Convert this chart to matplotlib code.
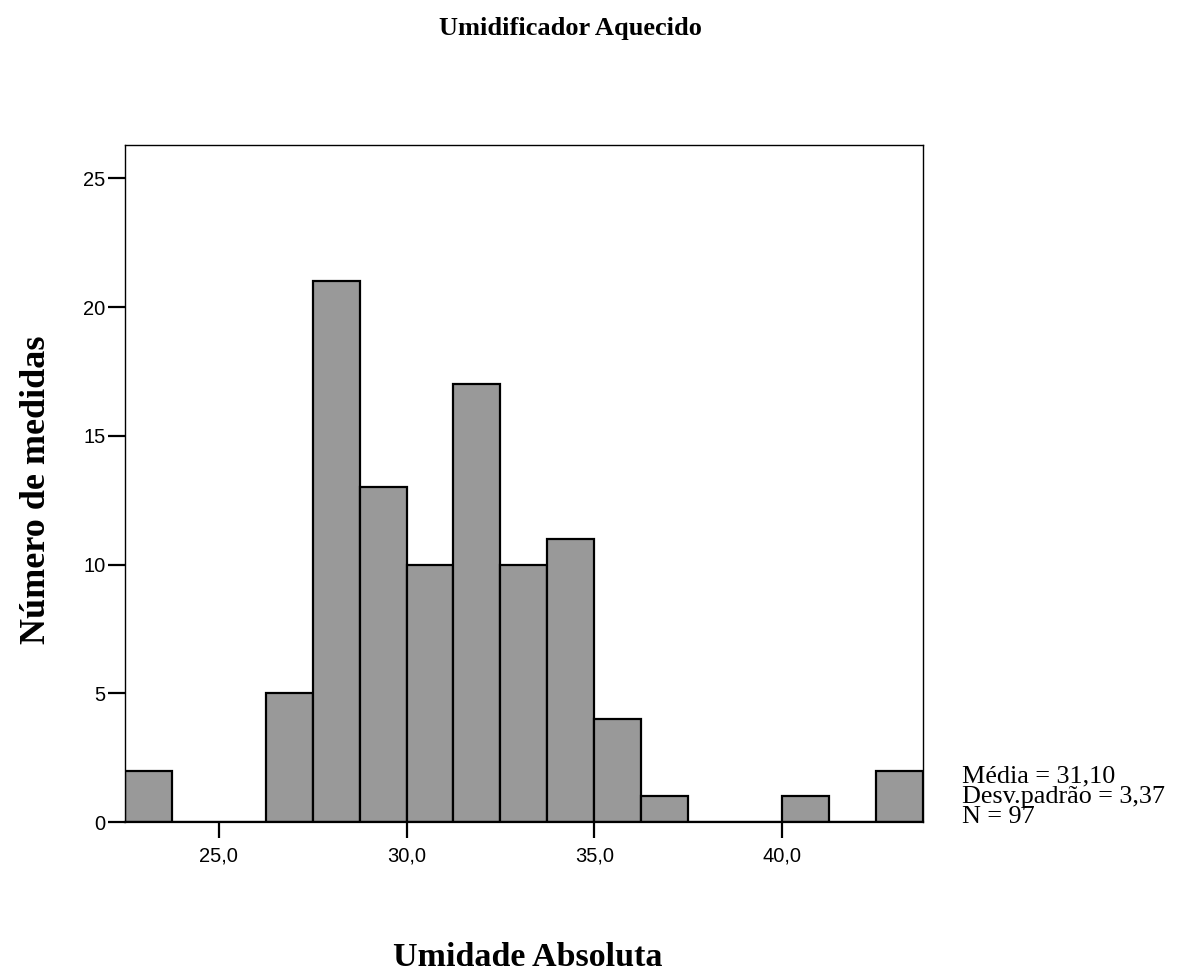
import numpy as np
import matplotlib
matplotlib.use('Agg')
import matplotlib.pyplot as plt

# histogram data (Umidade Absoluta, umidificador aquecido)
bin_edges = [22.5, 23.75, 25.0, 26.25, 27.5, 28.75, 30.0, 31.25, 32.5, 33.75,
             35.0, 36.25, 37.5, 38.75, 40.0, 41.25, 42.5, 43.75]
counts = [2, 0, 0, 5, 21, 13, 10, 17, 10, 11, 4, 1, 0, 0, 1, 0, 2]
x_ticks = [25.0, 30.0, 35.0, 40.0]
x_tick_labels = ['25,0', '30,0', '35,0', '40,0']
y_ticks = [0, 5, 10, 15, 20, 25]
stats_lines = ['Média = 31,10', 'Desv.padrão = 3,37', 'N = 97']

serif = 'Liberation Serif'
sans = 'Liberation Sans'

fig = plt.figure(figsize=(11.84, 9.77), dpi=100)
ax = fig.add_axes([0.1056, 0.1586, 0.6737, 0.6930])

edges = np.array(bin_edges)
ax.bar(edges[:-1], counts, width=np.diff(edges), align='edge',
       color='#999999', edgecolor='black', linewidth=1.6, zorder=2)

ax.set_xlim(bin_edges[0], bin_edges[-1])
ax.set_ylim(0, 26.3)

ax.set_xticks(x_ticks)
ax.set_xticklabels(x_tick_labels, fontname=sans, fontsize=14.5)
ax.set_yticks(y_ticks)
ax.set_yticklabels([str(v) for v in y_ticks], fontname=sans, fontsize=14.5)
ax.tick_params(axis='x', direction='out', length=11.5, width=1.6, pad=6)
ax.tick_params(axis='y', direction='out', length=12, width=1.6, pad=2)

for side in ['top', 'right', 'left']:
    ax.spines[side].set_linewidth(1.0)
ax.spines['bottom'].set_linewidth(1.6)

fig.text(570 / 1184, 1 - 29 / 977, 'Umidificador Aquecido', ha='center', va='center',
         fontname=serif, fontweight='bold', fontsize=19)
fig.text(528 / 1184, 1 - 957 / 977, 'Umidade Absoluta', ha='center', va='center',
         fontname=serif, fontweight='bold', fontsize=24.5)
fig.text(37 / 1184, 1 - 490 / 977, 'Número de medidas', ha='center', va='center',
         rotation=90, fontname=serif, fontweight='bold', fontsize=26)

# stats box on the right
for i, line in enumerate(stats_lines):
    fig.text(962 / 1184, 1 - (782 + i * 20.5) / 977, line, ha='left', va='baseline',
             fontname=serif, fontsize=18.8)

fig.savefig('out.png', dpi=100, facecolor='white')
